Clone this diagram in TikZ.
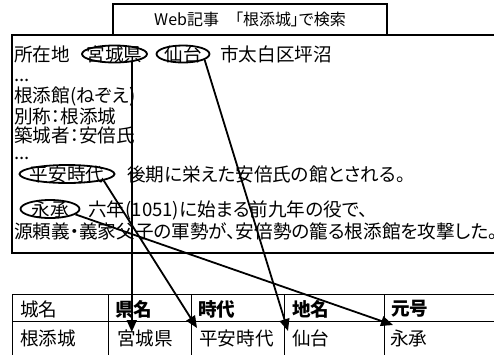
\documentclass[tikz,border=0pt]{standalone}
\usepackage{fontspec}
\setmainfont{Noto Sans CJK JP}[RawFeature=+palt]
\usetikzlibrary{arrows.meta,positioning,shapes.geometric}

\begin{document}
\begin{tikzpicture}[x=1bp,y=-1bp,>={Triangle[length=12bp,width=10bp]},
  font=\fontsize{18.6bp}{20bp}\selectfont,
  boxline/.style={line width=2bp},
  txt/.style={anchor=west,inner sep=0pt},
  ring/.style={draw,ellipse,line width=1.8bp,inner sep=0pt},
  cell/.style={anchor=west,inner sep=0pt},
  head/.style={cell,font=\fontsize{18.6bp}{20bp}\selectfont\bfseries},
  link/.style={->,line width=1.8bp}]
\clip (0,0) rectangle (494,354);
% search box and article
\node[draw,boxline,minimum width=274bp,minimum height=31bp,inner sep=0pt,font=\fontsize{16bp}{18bp}\selectfont] (query) at (250,19.5) {Web記事　「根添城」で検索};
\draw[boxline] (520,35) -- (12,35) -- (12,253) -- (520,253);
\node[txt] (loc) at (14,54) {所在地};
\node[ring,minimum width=65bp,minimum height=17bp] (kenE) at (114.5,54) {};
\node[inner sep=0pt] (ken) at (kenE) {宮城県};
\node[ring,minimum width=53bp,minimum height=17bp] (sendaiE) at (183,54) {};
\node[inner sep=0pt] (sendai) at (sendaiE) {仙台};
\node[txt] (ward) at (220,54) {市太白区坪沼};
\node[txt] (dotsA) at (14,80) {...};
\node[txt] (yakata) at (14,96) {根添館(ねぞえ)};
\node[txt] (alias) at (14,116) {別称：根添城};
\node[txt] (builder) at (14,135) {築城者：安倍氏};
\node[txt] (dotsB) at (14,158) {...};
\node[ring,minimum width=95bp,minimum height=18bp] (heianE) at (67,174) {};
\node[inner sep=0pt] (heian) at (heianE) {平安時代};
\node[txt] (late) at (127,174) {後期に栄えた安倍氏の館とされる。};
\node[ring,minimum width=59bp,minimum height=18bp] (eishoE) at (50,209) {};
\node[inner sep=0pt] (eisho) at (eishoE) {永承};
\node[txt] (war) at (88,210) {六年(1051)に始まる前九年の役で、};
\node[txt] (attack) at (14,231) {源頼義・義家父子の軍勢が、安倍勢の籠る根添館を攻撃した。};
% table
\draw (12,294) -- (520,294) (12,321) -- (520,321);
\foreach \x in {12,108,191,284,384} \draw (\x,294) -- (\x,360);
\node[cell] (hName) at (20,309) {城名};
\node[head] (hPref) at (115,309) {県名};
\node[head] (hEra) at (198,309) {時代};
\node[head] (hPlace) at (292,309) {地名};
\node[head] (hGengo) at (391,309) {元号};
\node[cell] (vName) at (20,338) {根添城};
\node[cell] (vPref) at (117,338) {宮城県};
\node[cell] (vEra) at (199,338) {平安時代};
\node[cell] (vPlace) at (292,338) {仙台};
\node[cell] (vGengo) at (390,338) {永承};
% links
\coordinate (toPref) at (133,332);
\coordinate (toEra) at (197,328);
\coordinate (toPlace) at (288,331);
\coordinate (toGengo) at (393,325);
\draw[link] (kenE.-25) -- (kenE.-25 |- toPref);
\draw[link] (sendaiE.-15) -- (toPlace);
\draw[link] (heianE.-10) -- (toEra);
\draw[link] (eishoE.-12) -- (toGengo);
\end{tikzpicture}
\end{document}
